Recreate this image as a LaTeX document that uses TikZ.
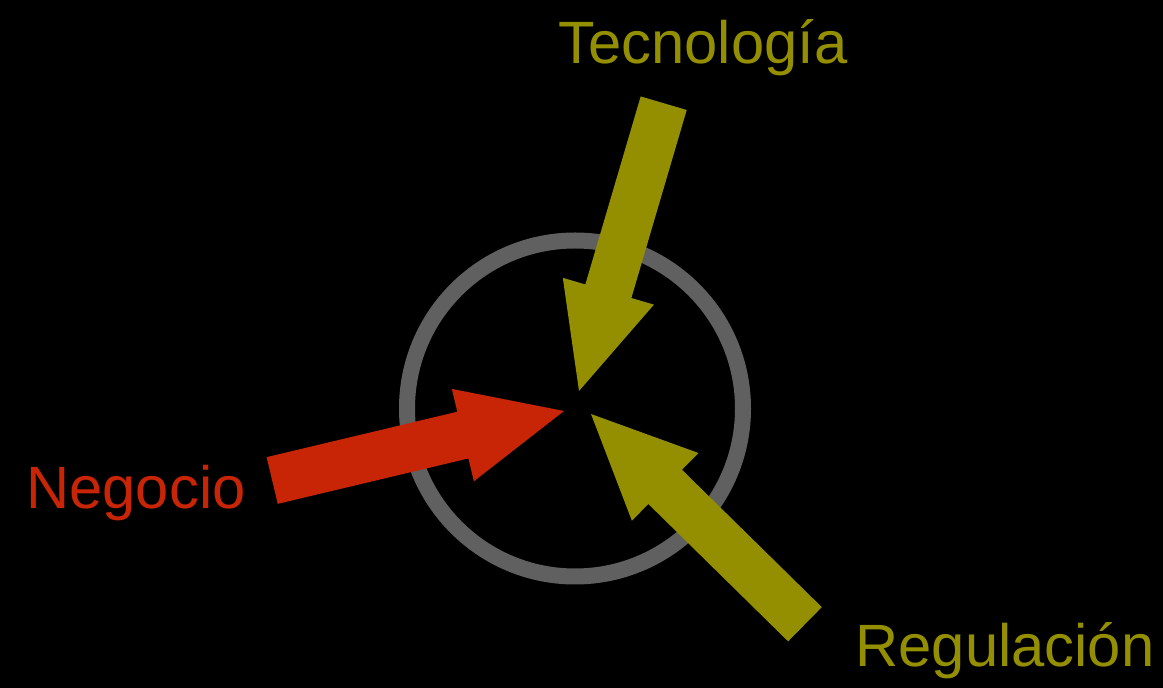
\documentclass[tikz,border=0pt]{standalone}
\usepackage{fontspec}
\setmainfont{Liberation Sans}
\usepackage{tikz}

\definecolor{olivegold}{RGB}{148,143,0}
\definecolor{bizred}{RGB}{200,37,6}
\definecolor{ringgray}{RGB}{96,96,96}

\tikzset{
    label text/.style={font=\fontsize{34}{40}\selectfont, inner sep=0pt, anchor=base},
    blockarrow/.pic={
        \fill (0,0) -- (-104,47.5) -- (-104,24) -- (-300,24)
            -- (-300,-24) -- (-104,-24) -- (-104,-47.5) -- cycle;
    }
}

\begin{document}
\begin{tikzpicture}[x=0.02cm, y=0.02cm]
    \fill[black] (0,0) rectangle (1163,-688);
    \useasboundingbox (0,0) rectangle (1163,-688);

    \coordinate (hub) at (575,-408.5);
    \draw[ringgray, line width=16*0.02cm] (hub) circle [radius=168];

    \coordinate (tectip) at (579,-391);
    \coordinate (negtip) at (564,-411);
    \coordinate (regtip) at (591,-414);

    \pic[olivegold, rotate=253.6] at (tectip) {blockarrow};
    \pic[bizred, rotate=13.4] at (negtip) {blockarrow};
    \pic[olivegold, rotate=135.5] at (regtip) {blockarrow};

    \node[label text, text=olivegold] (tec) at (703,-63.3) {Tecnología};
    \node[label text, text=bizred] (neg) at (136,-508.3) {Negocio};
    \node[label text, text=olivegold] (reg) at (1005,-667) {Regulación};
\end{tikzpicture}
\end{document}
